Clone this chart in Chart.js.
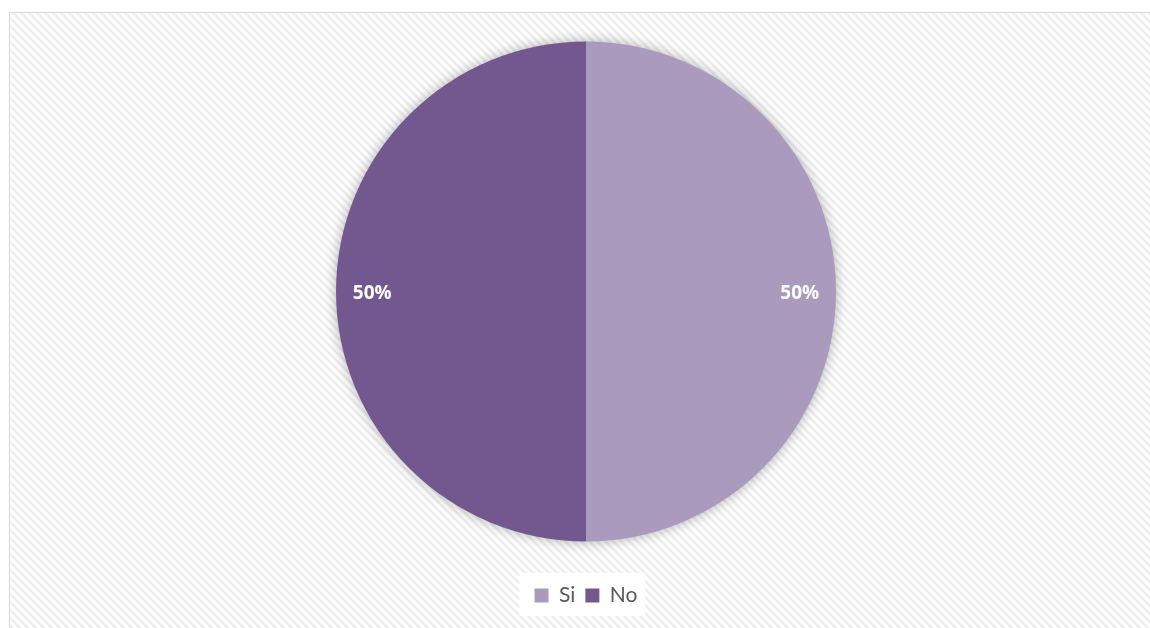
<!DOCTYPE html>
<html>
<head>
<meta charset="utf-8">
<script src="https://cdn.jsdelivr.net/npm/chart.js@4"></script>
<style>
html,body{margin:0;padding:0;background:#fff;}
#wrap{position:absolute;left:0;top:0;width:1150px;height:628px;}
#frame{position:absolute;left:9px;top:12px;width:1150px;height:630px;border:1px solid #d9d9d9;box-sizing:border-box;}
canvas{position:absolute;left:0;top:0;}
</style>
</head>
<body>
<div id="wrap">
<canvas id="bg" width="1150" height="628"></canvas>
<div id="frame"></div>
<canvas id="c" width="1150" height="628"></canvas>
</div>
<script>
const categories = ["Si", "No"];
const values = [50, 50];
const sliceColors = ["#A99ABE", "#72588F"];

// hatched background
(function(){
  const bg = document.getElementById('bg');
  const ctx = bg.getContext('2d');
  const tile = document.createElement('canvas');
  tile.width = 8; tile.height = 8;
  const t = tile.getContext('2d');
  t.fillStyle = '#ffffff'; t.fillRect(0,0,8,8);
  t.strokeStyle = '#eeeeee'; t.lineWidth = 2.5;
  t.beginPath();
  t.moveTo(-2,-2); t.lineTo(10,10);
  t.moveTo(-6,2); t.lineTo(2,10);
  t.moveTo(6,-2); t.lineTo(14,6);
  t.stroke();
  ctx.fillStyle = ctx.createPattern(tile,'repeat');
  ctx.fillRect(10,13,1150,628);
})();

const shadowPlugin = {
  id: 'pieShadow',
  beforeDatasetsDraw(chart){
    const arc = chart.getDatasetMeta(0).data[0];
    if(!arc) return;
    const ctx = chart.ctx;
    ctx.save();
    ctx.shadowColor = 'rgba(0,0,0,0.35)';
    ctx.shadowBlur = 14;
    ctx.fillStyle = '#888';
    ctx.beginPath();
    ctx.arc(arc.x, arc.y, arc.outerRadius - 1, 0, Math.PI*2);
    ctx.fill();
    ctx.restore();
  },
  afterDatasetsDraw(chart){
    const meta = chart.getDatasetMeta(0);
    const ctx = chart.ctx;
    const total = values.reduce((a,b)=>a+b,0);
    ctx.save();
    ctx.fillStyle = '#ffffff';
    ctx.font = 'bold 19px "Open Sans", sans-serif';
    ctx.textAlign = 'center';
    ctx.textBaseline = 'middle';
    meta.data.forEach((a,i)=>{
      const mid = (a.startAngle + a.endAngle)/2;
      const r = a.outerRadius * 0.855;
      const x = a.x + Math.cos(mid)*r;
      const y = a.y + Math.sin(mid)*r;
      ctx.fillText(Math.round(values[i]/total*100) + '%', x, y + 2);
    });
    ctx.restore();
  }
};

const legendBg = {
  id: 'legendBg',
  beforeDraw(chart){
    const lg = chart.legend;
    if(!lg || !lg.legendHitBoxes || !lg.legendHitBoxes.length) return;
    const boxes = lg.legendHitBoxes;
    const l = Math.min(...boxes.map(b=>b.left));
    const r = Math.max(...boxes.map(b=>b.left + b.width));
    const t = Math.min(...boxes.map(b=>b.top));
    const b = Math.max(...boxes.map(b=>b.top + b.height));
    const ctx = chart.ctx;
    ctx.save();
    ctx.fillStyle = '#ffffff';
    ctx.fillRect(l - 15, t - 12, (r - l) + 23, (b - t) + 22);
    ctx.restore();
  }
};

new Chart(document.getElementById('c'), {
  type: 'pie',
  data: {
    labels: categories,
    datasets: [{
      data: values,
      backgroundColor: sliceColors,
      borderWidth: 0
    }]
  },
  options: {
    responsive: false,
    animation: false,
    rotation: 0,
    radius: 250,
    layout: { padding: { top: 8, bottom: 12, left: 22, right: 0 } },
    plugins: {
      tooltip: { enabled: false },
      legend: {
        position: 'bottom',
        labels: {
          boxWidth: 14,
          boxHeight: 14,
          padding: 10,
          color: '#595959',
          font: { family: 'Lato, "Open Sans", sans-serif', size: 21 }
        }
      }
    }
  },
  plugins: [shadowPlugin, legendBg]
});
</script>
</body>
</html>
